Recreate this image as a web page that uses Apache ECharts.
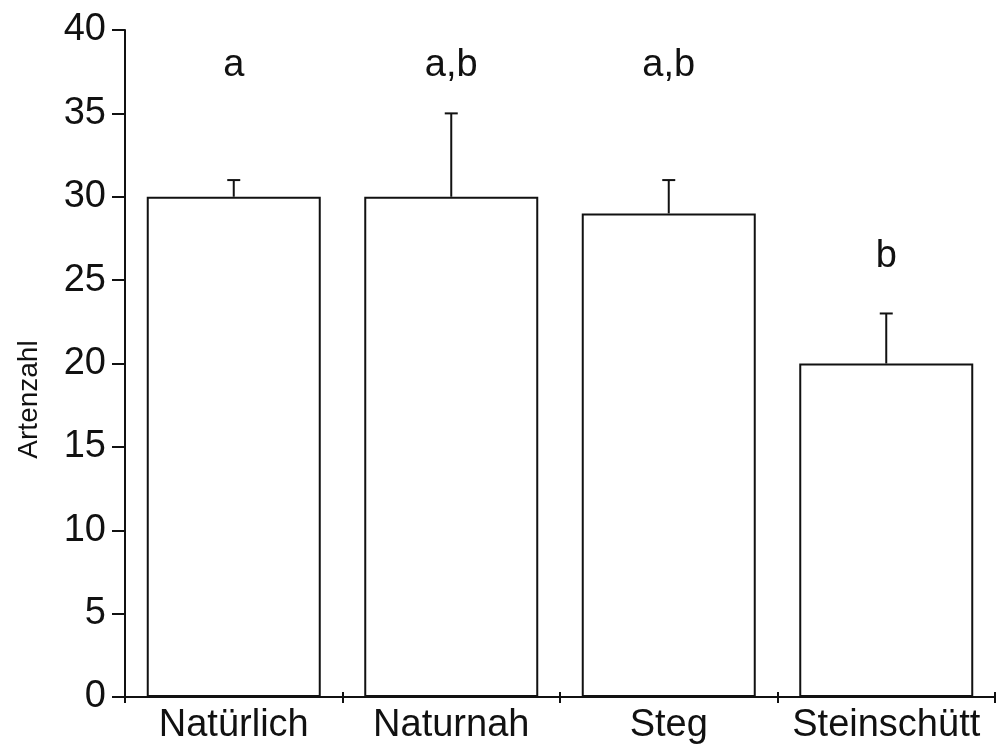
<!DOCTYPE html>
<html>
<head>
<meta charset="utf-8">
<script src="https://cdn.jsdelivr.net/npm/echarts@6/dist/echarts.min.js"></script>
<style>
html,body{margin:0;padding:0;background:#fff;}
#c{width:997px;height:749px;}
</style>
</head>
<body>
<div id="c"></div>
<script>
const categories = ['Natürlich', 'Naturnah', 'Steg', 'Steinschütt'];
const means = [30, 30, 29, 20];
const errors = [1, 5, 2, 3];
const letters = ['a', 'a,b', 'a,b', 'b'];
const letterPos = [37.85, 37.85, 37.85, 26.4];
const yTicks = [0, 5, 10, 15, 20, 25, 30, 35, 40];

const FONT = 'Liberation Sans, Arial, sans-serif';
const INK = '#111';

const chart = echarts.init(document.getElementById('c'), null, {renderer: 'canvas'});

const errData = categories.map((c, i) => [i, means[i], means[i] + errors[i]]);
const letterData = categories.map((c, i) => [i, letterPos[i]]);

chart.setOption({
  backgroundColor: '#fff',
  animation: false,
  grid: {left: 125, right: 2, top: 30, bottom: 52, containLabel: false},
  xAxis: [{
    type: 'category',
    data: categories,
    boundaryGap: true,
    axisLine: {lineStyle: {color: INK, width: 2}},
    axisTick: {show: true, inside: false, length: 6, lineStyle: {color: INK, width: 2}},
    axisLabel: {color: INK, fontSize: 38, fontFamily: FONT, margin: 10, interval: 0},
    splitLine: {show: false}
  }, {
    type: 'category',
    data: categories,
    position: 'bottom',
    boundaryGap: true,
    axisLine: {show: false},
    axisTick: {show: true, inside: true, length: 5, lineStyle: {color: INK, width: 2}},
    axisLabel: {show: false},
    splitLine: {show: false}
  }],
  yAxis: {
    type: 'value',
    min: yTicks[0],
    max: yTicks[yTicks.length - 1],
    interval: yTicks[1] - yTicks[0],
    name: 'Artenzahl',
    nameLocation: 'middle',
    nameGap: 82,
    nameTextStyle: {color: INK, fontSize: 28, fontFamily: FONT, padding: [0, 72, 0, 0]},
    axisLine: {show: true, lineStyle: {color: INK, width: 2}},
    axisTick: {show: true, inside: false, length: 13, lineStyle: {color: INK, width: 2}},
    axisLabel: {color: INK, fontSize: 38, fontFamily: FONT, margin: 19},
    splitLine: {show: false}
  },
  series: [{
    type: 'bar',
    data: means,
    barWidth: '80%',
    itemStyle: {color: '#fff', borderColor: INK, borderWidth: 2},
    z: 2
  }, {
    type: 'custom',
    data: errData,
    encode: {x: 0, y: [1, 2]},
    z: 3,
    renderItem: function (params, api) {
      const idx = api.value(0);
      const lo = api.coord([idx, api.value(1)]);
      const hi = api.coord([idx, api.value(2)]);
      const half = 6.5;
      return {
        type: 'group',
        children: [{
          type: 'line',
          shape: {x1: lo[0], y1: lo[1], x2: hi[0], y2: hi[1]},
          style: {stroke: INK, lineWidth: 2}
        }, {
          type: 'line',
          shape: {x1: hi[0] - half, y1: hi[1], x2: hi[0] + half, y2: hi[1]},
          style: {stroke: INK, lineWidth: 2}
        }]
      };
    }
  }, {
    type: 'scatter',
    data: letterData,
    symbolSize: 0,
    z: 4,
    itemStyle: {opacity: 1},
    label: {
      show: true,
      position: 'inside',
      color: INK,
      opacity: 1,
      fontSize: 38,
      fontFamily: FONT,
      formatter: function (p) { return letters[p.dataIndex]; }
    }
  }]
});
</script>
</body>
</html>
